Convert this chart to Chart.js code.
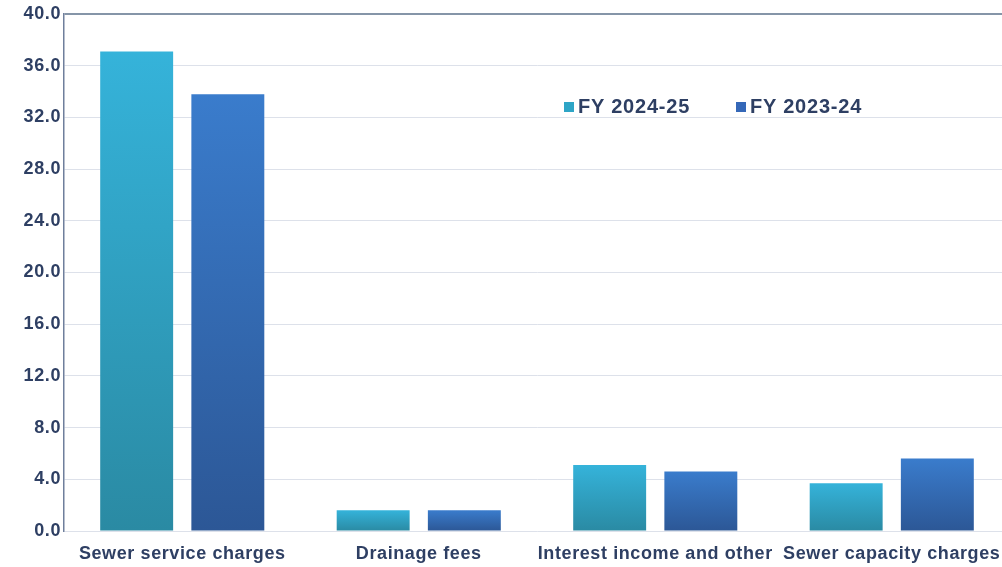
<!DOCTYPE html>
<html>
<head>
<meta charset="utf-8">
<script src="https://cdn.jsdelivr.net/npm/chart.js@4/dist/chart.umd.min.js"></script>
<style>
  html, body { margin: 0; padding: 0; background: #fff; overflow: hidden; }
  #wrap { position: relative; width: 1010px; height: 567px; }
  #legend {
    position: absolute; left: 564px; top: 95px;
    font-family: "Liberation Sans", Arial, sans-serif; font-weight: bold;
    font-size: 20px; letter-spacing: 0.8px; color: #2e3f63; white-space: nowrap;
  }
  #legend span.item { display: inline-block; width: 172px; }
  #legend i { display: inline-block; width: 10px; height: 10px; margin-right: 4px; vertical-align: 1px; }
</style>
</head>
<body>
<div id="wrap">
  <canvas id="revenueChart" width="1010" height="567"></canvas>
  <div id="legend">
    <span class="item"><i style="background:#2ea5c6"></i>FY 2024-25</span><span><i style="background:#3568b8"></i>FY 2023-24</span>
  </div>
</div>
<script>
const categories = ['Sewer service charges', 'Drainage fees', 'Interest income and other', 'Sewer capacity charges'];
const fy2425 = [37.1, 1.6, 5.1, 3.7];
const fy2324 = [33.8, 1.6, 4.6, 5.6];
const yTicks = [0, 4, 8, 12, 16, 20, 24, 28, 32, 36, 40];

// vertical gradient per bar, light at top, dark at base
function barGradient(top, bottom) {
  return function(context) {
    const chart = context.chart;
    const y = chart.scales.y;
    if (!y || !chart.chartArea || context.raw === undefined) return bottom;
    const y0 = y.getPixelForValue(context.raw);
    const y1 = y.getPixelForValue(0);
    const g = chart.ctx.createLinearGradient(0, y0, 0, y1);
    g.addColorStop(0, top);
    g.addColorStop(1, bottom);
    return g;
  };
}

// a bit of letter spacing so the tick text is as wide as the original
const spacingPlugin = {
  id: 'spacing',
  beforeDraw(chart) { chart.ctx.letterSpacing = '0.6px'; }
};

const ctx = document.getElementById('revenueChart').getContext('2d');
const tickFont = { family: '"Liberation Sans", Arial, sans-serif', size: 18, weight: 'bold' };

new Chart(ctx, {
  type: 'bar',
  data: {
    labels: categories,
    datasets: [
      {
        label: 'FY 2024-25',
        data: fy2425,
        backgroundColor: barGradient('#35b3da', '#2a8aa3'),
        categoryPercentage: 0.771,
        barPercentage: 0.80
      },
      {
        label: 'FY 2023-24',
        data: fy2324,
        backgroundColor: barGradient('#3a7ccc', '#2c5796'),
        categoryPercentage: 0.771,
        barPercentage: 0.80
      }
    ]
  },
  plugins: [spacingPlugin],
  options: {
    responsive: false,
    animation: false,
    layout: { padding: { top: 14, right: 0, left: 0, bottom: 0 } },
    plugins: {
      legend: { display: false },
      tooltip: { enabled: false }
    },
    scales: {
      x: {
        grid: { display: false, drawTicks: false },
        border: { display: false },
        ticks: { color: '#2e3f63', font: tickFont, padding: 12, maxRotation: 0, autoSkip: false },
        afterFit: (scale) => { scale.height = 36; }
      },
      y: {
        min: 0,
        max: 40,
        afterBuildTicks: (scale) => { scale.ticks = yTicks.map(v => ({ value: v })); },
        grid: {
          color: (c) => c.tick && c.tick.value === 40 ? '#8595a8' : '#dde1ea',
          lineWidth: (c) => c.tick && c.tick.value === 40 ? 2 : 1,
          drawTicks: false
        },
        border: { display: true, color: '#6f7f9c', width: 1.5 },
        ticks: {
          color: '#2e3f63', font: tickFont, padding: 3,
          callback: (v) => Number(v).toFixed(1)
        },
        afterFit: (scale) => { scale.width = 64; }
      }
    }
  }
});
</script>
</body>
</html>
